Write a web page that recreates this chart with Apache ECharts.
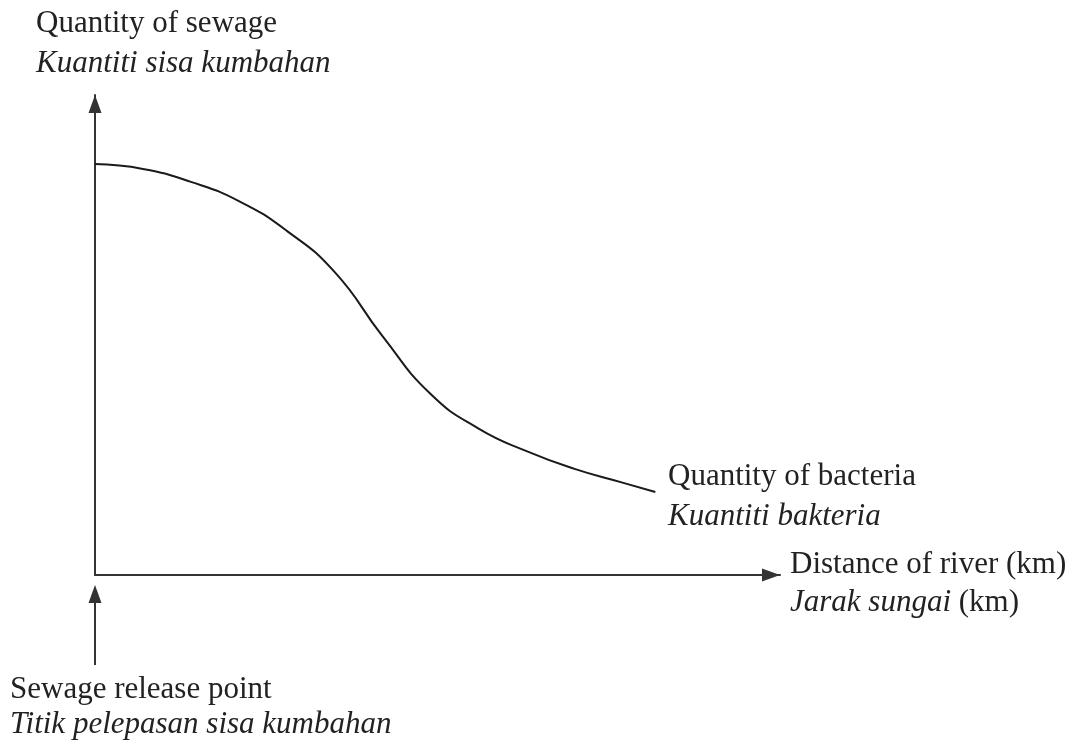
<!DOCTYPE html>
<html>
<head>
<meta charset="utf-8">
<script src="https://cdn.jsdelivr.net/npm/echarts@6/dist/echarts.min.js"></script>
<style>
html,body{margin:0;padding:0;background:#fff;}
#chart{width:1081px;height:742px;}
</style>
</head>
<body>
<div id="chart"></div>
<script>
// Distance along river (arbitrary units, no ticks shown)
const distance = [0, 7, 14, 21, 28, 35, 42, 49, 56, 63, 70, 77, 81.8];
// Quantity (curve: quantity of bacteria)
const quantity = [85.6, 84.6, 81.9, 77.9, 71.7, 63.1, 49.7, 37.7, 30.5, 25.8, 22.1, 19.25, 17.3];
// Sewage release point arrow (x position, from y, to y) in data units
const releaseX = 0;
const releaseArrow = [-18.75, -2.1];

const yAxisTitle = ['Quantity of sewage', 'Kuantiti sisa kumbahan'];
const xAxisTitle = ['Distance of river (km)', 'Jarak sungai', '(km)'];
const curveTitle = ['Quantity of bacteria', 'Kuantiti bakteria'];
const releaseTitle = ['Sewage release point', 'Titik pelepasan sisa kumbahan'];

const FONT = '"Liberation Serif", "Times New Roman", serif';
const INK = '#222';
const FS = 31;

const chart = echarts.init(document.getElementById('chart'), null, {renderer: 'canvas'});

const axisCommon = {
  type: 'value', min: 0, max: 100,
  splitLine: {show: false}, axisTick: {show: false}, axisLabel: {show: false},
  axisLine: {show: true, onZero: false, symbol: ['none', 'triangle'], symbolSize: [13, 18],
    symbolOffset: [0, -9], lineStyle: {color: '#333', width: 2}}
};

function txt(x, y, text, italic) {
  return {type: 'text', x: x, y: y, silent: true,
    style: {text: text, font: (italic ? 'italic ' : '') + FS + 'px ' + FONT,
      fill: INK, align: 'left', verticalAlign: 'middle'}};
}

chart.setOption({
  animation: false,
  backgroundColor: '#fff',
  grid: {left: 95, right: 301, top: 95, bottom: 167, containLabel: false, outerBoundsMode: 'none'},
  xAxis: Object.assign({}, axisCommon),
  yAxis: Object.assign({}, axisCommon),
  series: [{
    type: 'line', smooth: 0.5, symbol: 'none', clip: false,
    data: distance.map((d, i) => [d, quantity[i]]),
    lineStyle: {color: '#1a1a1a', width: 2}
  }]
});

const p1 = chart.convertToPixel({gridIndex: 0}, [releaseX, releaseArrow[0]]);
const p2 = chart.convertToPixel({gridIndex: 0}, [releaseX, releaseArrow[1]]);
const ah = 18, aw = 13;

chart.setOption({
  graphic: [
    {type: 'line', silent: true, shape: {x1: p1[0], y1: p1[1], x2: p2[0], y2: p2[1] + ah / 2},
      style: {stroke: '#333', lineWidth: 2}},
    {type: 'polygon', silent: true,
      shape: {points: [[p2[0], p2[1]], [p2[0] - aw / 2, p2[1] + ah], [p2[0] + aw / 2, p2[1] + ah]]},
      style: {fill: '#333'}},
    txt(36, 24, yAxisTitle[0], false),
    txt(36, 64, yAxisTitle[1], true),
    txt(668, 477, curveTitle[0], false),
    txt(668, 517, curveTitle[1], true),
    txt(790, 565, xAxisTitle[0], false),
    {type: 'text', x: 790, y: 603, silent: true,
      style: {text: '{i|' + xAxisTitle[1] + '} {n|' + xAxisTitle[2] + '}', fill: INK,
        verticalAlign: 'middle', font: FS + 'px ' + FONT,
        rich: {i: {font: 'italic ' + FS + 'px ' + FONT, fill: INK},
               n: {font: FS + 'px ' + FONT, fill: INK}}}},
    txt(10, 690, releaseTitle[0], false),
    txt(10, 725, releaseTitle[1], true)
  ]
});
</script>
</body>
</html>
